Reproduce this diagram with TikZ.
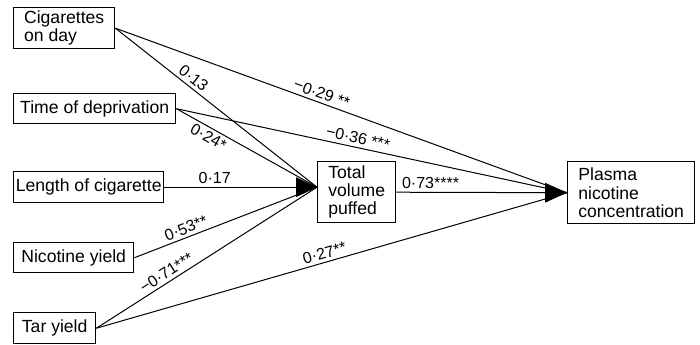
\documentclass[tikz,border=0pt]{standalone}
\usepackage{fontspec}
\setmainfont{Liberation Sans}

\begin{document}
\begin{tikzpicture}[x=0.5pt,y=-0.5pt,
	box/.style={draw,line width=0.7pt,anchor=north west,align=left,inner sep=1pt,font=\fontsize{8.8}{9}\selectfont},
	link/.style={line width=0.5pt},
	lab/.style={font=\fontsize{8}{9}\selectfont,inner sep=1.5pt,sloped}]
	\useasboundingbox (0,0) rectangle (700,344);
	\node[box,minimum width=50.5pt,minimum height=20.5pt] (cig) at (13,7) {Cigarettes\\on day};
	\node[box,minimum width=81pt,minimum height=15pt] (dep) at (13,93) {Time of deprivation};
	\node[box,minimum width=75pt,minimum height=15.5pt] (len) at (13,171) {Length of cigarette};
	\node[box,minimum width=60pt,minimum height=15pt] (nic) at (13,242) {Nicotine yield};
	\node[box,minimum width=41pt,minimum height=15.5pt] (tar) at (13,312) {Tar yield};
	\node[box,minimum width=39pt,minimum height=30.5pt] (tot) at (317,161) {Total\\volume\\puffed};
	\node[box,minimum width=63.5pt,minimum height=31pt] (pla) at (567,161) {Plasma\\nicotine\\concentration};
	\coordinate (tottip) at ([yshift=2.5pt]tot.west);

	\draw[link] (cig.east) -- node[lab,above,pos=0.36] {0·13} (tottip);
	\draw[link] (cig.east) -- node[lab,above,pos=0.45] {−0·29 **} (pla.west);
	\draw[link] (dep.east) -- node[lab,below,pos=0.26] {0·24*} (tottip);
	\draw[link] (dep.east) -- node[lab,above,pos=0.46] {−0·36 ***} (pla.west);
	\draw[link] (len.east) -- node[lab,above,pos=0.33] {0·17} (tottip);
	\draw[link] (nic.east) -- node[lab,above,pos=0.3] {0·53**} (tottip);
	\draw[link] (tar.east) -- node[lab,above,pos=0.34] {−0·71***} (tottip);
	\draw[link] (tar.east) -- node[lab,above,pos=0.49] {0·27**} (pla.west);
	\draw[link] (tot.east) -- node[lab,above,pos=0.2] {0·73****} (pla.west);
	\fill (tottip) -- ++(-21,10) -- ++(0,-20) -- cycle;
	\fill (pla.west) -- ++(-22,10) -- ++(0,-20) -- cycle;

\end{tikzpicture}
\end{document}
